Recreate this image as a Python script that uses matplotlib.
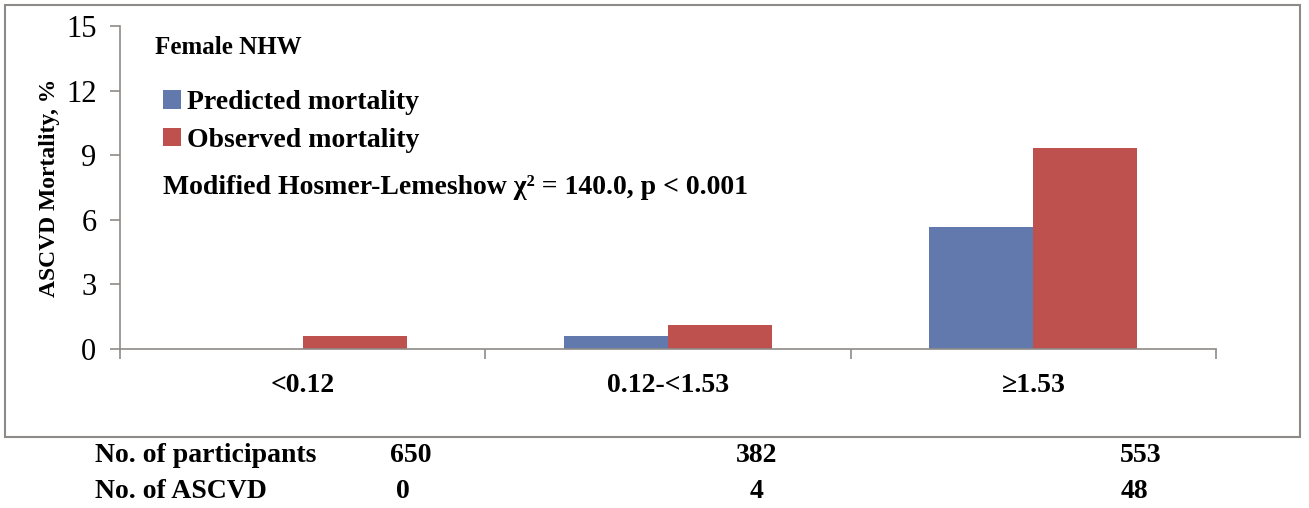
import numpy as np
import matplotlib
matplotlib.use("Agg")
import matplotlib.pyplot as plt
from matplotlib.patches import Rectangle

# --- data ---
categories = ["<0.12", "0.12-<1.53", "\u22651.53"]
predicted = [0.0, 0.62, 5.68]
observed = [0.62, 1.10, 9.34]
n_participants = ["650", "382", "553"]
n_ascvd = ["0", "4", "48"]

BLUE = "#6279ad"
RED = "#be504d"
GREY = "#8e8a88"

plt.rcParams["font.family"] = ["Liberation Serif", "DejaVu Serif"]

W, H = 1309, 508
fig = plt.figure(figsize=(W / 100, H / 100), dpi=100)

def fx(px):
    return px / W

def fy(py):
    return 1 - py / H

# outer frame around the chart
fig.patches.append(Rectangle((fx(5), fy(437)), fx(1300) - fx(5), fy(5) - fy(437),
                             transform=fig.transFigure, fill=False,
                             edgecolor=GREY, linewidth=1.5))

ax_left, ax_right = 120, 1216
ax = fig.add_axes([fx(ax_left), fy(349), fx(ax_right) - fx(ax_left), fy(26) - fy(349)])

x = np.arange(len(categories))
bw = 0.285
ax.bar(x - bw / 2, predicted, bw, color=BLUE, label="Predicted mortality")
ax.bar(x + bw / 2, observed, bw, color=RED, label="Observed mortality")

ax.set_xlim(-0.5, 2.5)
ax.set_ylim(0, 15)
ax.set_yticks([0, 3, 6, 9, 12, 15])
ax.tick_params(axis="y", labelsize=22, length=7, width=1.2, color=GREY, pad=10)

# category boundary ticks, labels centred under each group
ax.set_xticks(np.arange(-0.5, 3, 1))
ax.set_xticklabels([])
ax.tick_params(axis="x", length=7, width=1.2, color=GREY)
ax.set_xticks(x, minor=True)
ax.set_xticklabels(categories, minor=True, fontsize=20, fontweight="bold")
ax.tick_params(axis="x", which="minor", length=0, pad=17)

for s in ["top", "right"]:
    ax.spines[s].set_visible(False)
for s in ["left", "bottom"]:
    ax.spines[s].set_color(GREY)
    ax.spines[s].set_linewidth(1.2)

ax.set_ylabel("ASCVD Mortality, %", fontsize=17, fontweight="bold", labelpad=4)

# annotations
fig.text(fx(155), fy(47), "Female NHW", fontsize=18, fontweight="bold", va="center")
leg_x = (152 - ax_left) / (ax_right - ax_left)
ax.legend(loc="upper left", bbox_to_anchor=(leg_x, 0.835),
          frameon=False, prop={"weight": "bold", "size": 20},
          handlelength=0.65, handleheight=0.65, handletextpad=0.2,
          labelspacing=0.45, borderaxespad=0)
fig.text(fx(163), fy(188), "Modified Hosmer-Lemeshow \u03c7\u00b2 = 140.0, p < 0.001",
         fontsize=20, fontweight="bold", va="center")

# table beneath the chart
fig.text(fx(95), fy(456), "No. of participants", fontsize=20, fontweight="bold", va="center")
fig.text(fx(95), fy(492), "No. of ASCVD", fontsize=20, fontweight="bold", va="center")
part_x = [411, 757, 1141]
asc_x = [403, 757, 1134]
for i in range(len(categories)):
    fig.text(fx(part_x[i]), fy(456), n_participants[i], fontsize=20, fontweight="bold",
             ha="center", va="center")
    fig.text(fx(asc_x[i]), fy(492), n_ascvd[i], fontsize=20, fontweight="bold",
             ha="center", va="center")

fig.savefig("out.png", dpi=100, facecolor="white")
